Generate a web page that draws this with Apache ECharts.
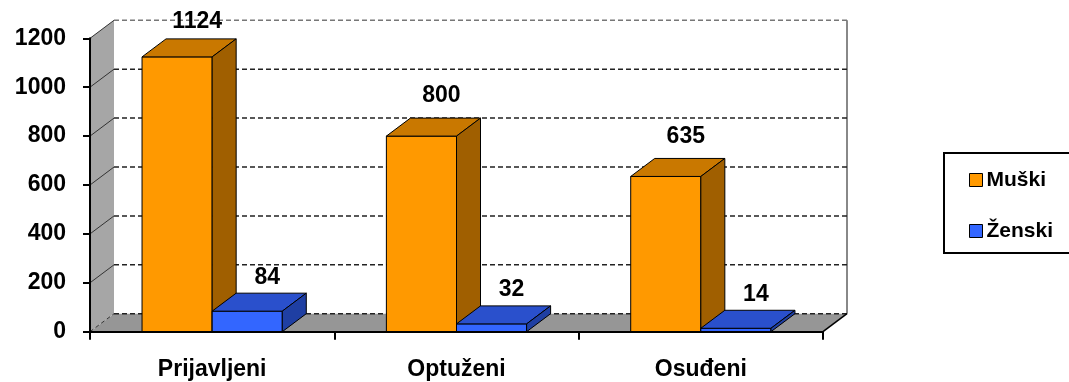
<!DOCTYPE html>
<html>
<head>
<meta charset="utf-8">
<script src="https://cdn.jsdelivr.net/npm/echarts@6/dist/echarts.min.js"></script>
<style>
  html, body { margin: 0; padding: 0; background: #fff; }
  #chart { width: 1069px; height: 382px; }
</style>
</head>
<body>
<div id="chart"></div>
<script>
// Data
const categories = ['Prijavljeni', 'Optuženi', 'Osuđeni'];
const muski = [1124, 800, 635];
const zenski = [84, 32, 14];
const seriesNames = ['Muški', 'Ženski'];
const yTicks = [0, 200, 400, 600, 800, 1000, 1200];

// Look of the 3D box
const DX = 24, DY = 18;          // depth projection (px)
const BAR_FRAC = 0.287;          // bar width as share of a category band
const FONT = '"Liberation Sans", Arial, sans-serif';
const yMax = yTicks[yTicks.length - 1];
const yStep = yTicks[1] - yTicks[0];

// Floor, side wall, back wall and the gridlines drawn on them
function renderWalls(params, api) {
  const cs = params.coordSys;
  const L = cs.x, R = cs.x + cs.width;
  const yb = api.coord([0, 0])[1];
  const yt = api.coord([0, yMax])[1];
  const ch = [];
  ch.push({ type: 'polygon', shape: { points: [[L, yb], [L, yt], [L + DX, yt - DY], [L + DX, yb - DY]] },
            style: { fill: '#A6A6A6' } });
  ch.push({ type: 'rect', shape: { x: L + DX, y: yt - DY, width: R - L, height: yb - yt },
            style: { fill: '#ffffff' } });
  ch.push({ type: 'polygon', shape: { points: [[L, yb], [R, yb], [R + DX, yb - DY], [L + DX, yb - DY]] },
            style: { fill: '#969696' } });
  ch.push({ type: 'line', shape: { x1: R + DX, y1: yt - DY, x2: R + DX, y2: yb - DY },
            style: { stroke: '#888', lineWidth: 2 } });
  yTicks.forEach(function (v) {
    const y = api.coord([0, v])[1];
    ch.push({ type: 'line', shape: { x1: L + DX, y1: y - DY, x2: R + DX, y2: y - DY },
              style: { stroke: v === yMax ? '#777' : '#222', lineWidth: 1.5, lineDash: [5, 3] } });
    ch.push({ type: 'line', shape: { x1: L, y1: y, x2: L + DX, y2: y - DY },
              style: { stroke: '#333', lineWidth: 1, lineDash: v === 0 ? [4, 3] : null } });
  });
  ch.push({ type: 'line', shape: { x1: R, y1: yb, x2: R + DX, y2: yb - DY },
            style: { stroke: '#000', lineWidth: 1.5 } });
  return { type: 'group', children: ch };
}

// A 3D column: front, top and right side faces plus its value label
function barSeries(name, data, slot, faces, labelLift) {
  return {
    type: 'custom',
    name: name,
    z: 3,
    data: data.map(function (v, i) { return [i, v]; }),
    itemStyle: { color: faces.front },
    renderItem: function (params, api) {
      const i = api.value(0), v = api.value(1);
      const c0 = api.coord([i, 0]);
      const c1 = api.coord([i, v]);
      const w = api.size([1, 0])[0] * BAR_FRAC;
      const x0 = c0[0] + slot * w, x1 = x0 + w;
      const yb = c0[1], yt = c1[1];
      const edge = { stroke: '#000', lineWidth: 1, lineJoin: 'round' };
      return {
        type: 'group',
        children: [
          { type: 'polygon', shape: { points: [[x0, yt], [x1, yt], [x1, yb], [x0, yb]] },
            style: Object.assign({ fill: faces.front }, edge) },
          { type: 'polygon', shape: { points: [[x0, yt], [x1, yt], [x1 + DX, yt - DY], [x0 + DX, yt - DY]] },
            style: Object.assign({ fill: faces.top }, edge) },
          { type: 'polygon', shape: { points: [[x1, yt], [x1 + DX, yt - DY], [x1 + DX, yb - DY], [x1, yb]] },
            style: Object.assign({ fill: faces.side }, edge) },
          { type: 'text', x: x0 + w / 2 + 20, y: Math.max(yt - labelLift, 22),
            style: { text: String(v), fill: '#000', font: 'bold 23px ' + FONT,
                     align: 'center', verticalAlign: 'middle' } }
        ]
      };
    }
  };
}

const chart = echarts.init(document.getElementById('chart'), null, { renderer: 'canvas' });

chart.setOption({
  animation: false,
  backgroundColor: '#ffffff',
  grid: { left: 90, right: 246, top: 38.3, bottom: 50.3, containLabel: false },
  legend: {
    data: seriesNames,
    orient: 'vertical',
    left: 969,
    top: 169,
    padding: 0,
    icon: 'rect',
    itemWidth: 13,
    itemHeight: 13,
    itemGap: 29,
    selectedMode: false,
    itemStyle: { borderColor: '#000', borderWidth: 1 },
    textStyle: { fontFamily: FONT, fontWeight: 'bold', fontSize: 21, color: '#000', lineHeight: 22, padding: [0, 0, 0, -1] }
  },
  graphic: [{
    type: 'rect',
    shape: { x: 944, y: 153, width: 140, height: 100 },
    style: { fill: 'none', stroke: '#000', lineWidth: 2 },
    silent: true
  }],
  xAxis: {
    type: 'category',
    data: categories,
    z: 5,
    axisLine: { lineStyle: { color: '#000', width: 2 } },
    axisTick: { show: true, length: 8, alignWithLabel: false, lineStyle: { color: '#000', width: 2 } },
    axisLabel: { fontFamily: FONT, fontWeight: 'bold', fontSize: 23, color: '#000', margin: 26 },
    splitLine: { show: false }
  },
  yAxis: {
    type: 'value',
    min: 0,
    max: yMax,
    interval: yStep,
    z: 5,
    axisLine: { show: true, lineStyle: { color: '#000', width: 2 } },
    axisTick: { show: true, length: 7, lineStyle: { color: '#000', width: 2 } },
    axisLabel: { fontFamily: FONT, fontWeight: 'bold', fontSize: 23, color: '#000', margin: 24,
                 formatter: function (v) { return String(v); } },
    splitLine: { show: false }
  },
  series: [
    { type: 'custom', name: 'walls', silent: true, z: 1, data: [[0, 0]], renderItem: renderWalls },
    barSeries(seriesNames[0], muski, -1, { front: '#FF9900', top: '#C97800', side: '#A05F00' }, 40),
    barSeries(seriesNames[1], zenski, 0, { front: '#3366FF', top: '#2A50CC', side: '#1F3FA3' }, 34)
  ]
});
</script>
</body>
</html>
